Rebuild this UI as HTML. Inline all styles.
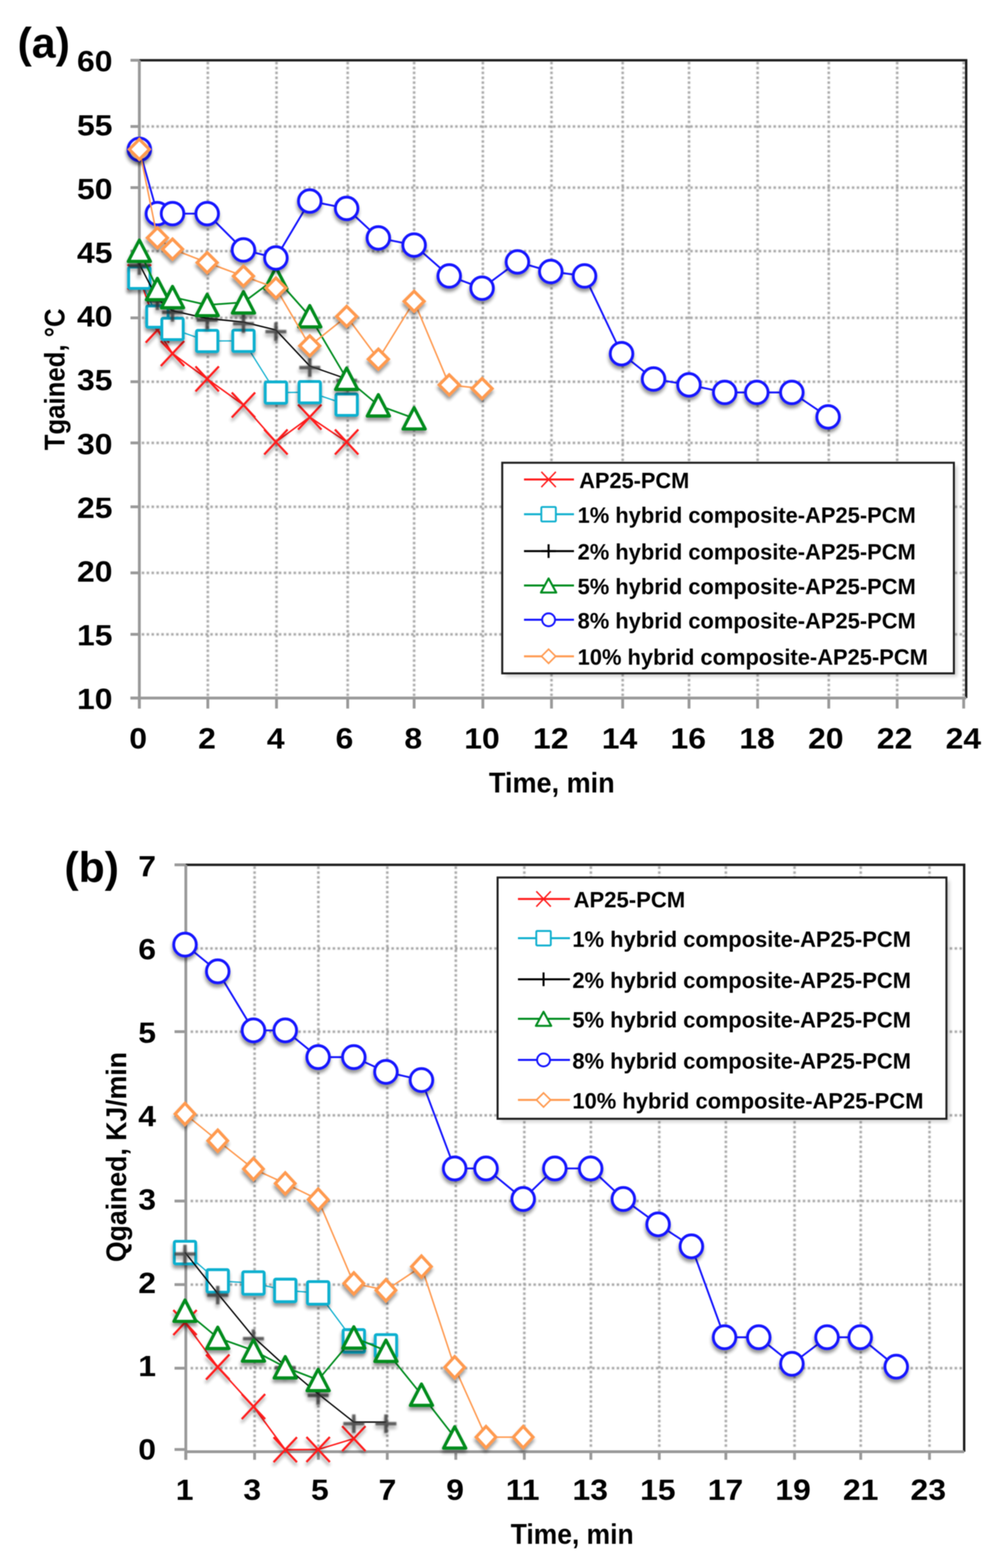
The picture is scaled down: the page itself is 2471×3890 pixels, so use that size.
<!DOCTYPE html>
<html><head><meta charset="utf-8"><title>Tgained and Qgained vs time</title><style>
html,body{margin:0;padding:0;background:#fff;}
svg{display:block;filter:blur(1.1px);}
text{font-family:"Liberation Sans",Arial,sans-serif;font-weight:bold;fill:#000;}
</style></head><body>
<svg width="2471" height="3890" viewBox="0 0 2471 3890">
<defs>
<filter id="sh" x="-20%" y="-20%" width="140%" height="140%"><feGaussianBlur in="SourceAlpha" stdDeviation="4"/><feOffset dx="-1.5" dy="8" result="b"/><feComponentTransfer in="b" result="c"><feFuncA type="linear" slope="0.42"/></feComponentTransfer><feMerge><feMergeNode in="c"/><feMergeNode in="SourceGraphic"/></feMerge></filter>
<filter id="bl" x="-30%" y="-30%" width="160%" height="160%"><feGaussianBlur stdDeviation="1.6"/></filter>
<filter id="gb" x="-1%" y="-1%" width="102%" height="102%"><feGaussianBlur stdDeviation="0.9"/></filter>
<filter id="bl6" x="-10%" y="-10%" width="120%" height="120%"><feGaussianBlur stdDeviation="5"/></filter>
</defs>
<rect width="2471" height="3890" fill="#fff"/>
<g stroke="#a2a2a2" stroke-width="6" stroke-dasharray="6 6.15" filter="url(#gb)">
<line x1="351.7" y1="313.8" x2="2394" y2="313.8"/>
<line x1="351.7" y1="465.4" x2="2394" y2="465.4"/>
<line x1="351.7" y1="623" x2="2394" y2="623"/>
<line x1="351.7" y1="788.6" x2="2394" y2="788.6"/>
<line x1="351.7" y1="947" x2="2394" y2="947"/>
<line x1="351.7" y1="1098.8" x2="2394" y2="1098.8"/>
<line x1="351.7" y1="1257.3" x2="2394" y2="1257.3"/>
<line x1="351.7" y1="1421.2" x2="2394" y2="1421.2"/>
<line x1="351.7" y1="1573.7" x2="2394" y2="1573.7"/>
<line x1="515.6" y1="153.5" x2="515.6" y2="1728.8"/>
<line x1="686" y1="153.5" x2="686" y2="1728.8"/>
<line x1="862.6" y1="153.5" x2="862.6" y2="1728.8"/>
<line x1="1027.4" y1="153.5" x2="1027.4" y2="1728.8"/>
<line x1="1197.9" y1="153.5" x2="1197.9" y2="1728.8"/>
<line x1="1368.2" y1="153.5" x2="1368.2" y2="1728.8"/>
<line x1="1544.8" y1="153.5" x2="1544.8" y2="1728.8"/>
<line x1="1709.4" y1="153.5" x2="1709.4" y2="1728.8"/>
<line x1="1879.6" y1="153.5" x2="1879.6" y2="1728.8"/>
<line x1="2056.1" y1="153.5" x2="2056.1" y2="1728.8"/>
<line x1="2225.8" y1="153.5" x2="2225.8" y2="1728.8"/>
<line x1="2390.8" y1="153.5" x2="2390.8" y2="1728.8"/>
</g>
<path d="M345.7 149.5L2397 149.5L2397 1731.8" fill="none" stroke="#1e1e1e" stroke-width="6"/>
<line x1="345.7" y1="149.5" x2="345.7" y2="1757.8" stroke="#999999" stroke-width="7"/>
<line x1="323.7" y1="1731.8" x2="2397" y2="1731.8" stroke="#999999" stroke-width="7"/>
<line x1="323.7" y1="149.5" x2="345.7" y2="149.5" stroke="#999999" stroke-width="7"/>
<line x1="323.7" y1="313.8" x2="345.7" y2="313.8" stroke="#999999" stroke-width="7"/>
<line x1="323.7" y1="465.4" x2="345.7" y2="465.4" stroke="#999999" stroke-width="7"/>
<line x1="323.7" y1="623" x2="345.7" y2="623" stroke="#999999" stroke-width="7"/>
<line x1="323.7" y1="788.6" x2="345.7" y2="788.6" stroke="#999999" stroke-width="7"/>
<line x1="323.7" y1="947" x2="345.7" y2="947" stroke="#999999" stroke-width="7"/>
<line x1="323.7" y1="1098.8" x2="345.7" y2="1098.8" stroke="#999999" stroke-width="7"/>
<line x1="323.7" y1="1257.3" x2="345.7" y2="1257.3" stroke="#999999" stroke-width="7"/>
<line x1="323.7" y1="1421.2" x2="345.7" y2="1421.2" stroke="#999999" stroke-width="7"/>
<line x1="323.7" y1="1573.7" x2="345.7" y2="1573.7" stroke="#999999" stroke-width="7"/>
<line x1="323.7" y1="1731.8" x2="345.7" y2="1731.8" stroke="#999999" stroke-width="7"/>
<line x1="345.7" y1="1731.8" x2="345.7" y2="1757.8" stroke="#999999" stroke-width="7"/>
<line x1="515.6" y1="1731.8" x2="515.6" y2="1757.8" stroke="#999999" stroke-width="7"/>
<line x1="686" y1="1731.8" x2="686" y2="1757.8" stroke="#999999" stroke-width="7"/>
<line x1="862.6" y1="1731.8" x2="862.6" y2="1757.8" stroke="#999999" stroke-width="7"/>
<line x1="1027.4" y1="1731.8" x2="1027.4" y2="1757.8" stroke="#999999" stroke-width="7"/>
<line x1="1197.9" y1="1731.8" x2="1197.9" y2="1757.8" stroke="#999999" stroke-width="7"/>
<line x1="1368.2" y1="1731.8" x2="1368.2" y2="1757.8" stroke="#999999" stroke-width="7"/>
<line x1="1544.8" y1="1731.8" x2="1544.8" y2="1757.8" stroke="#999999" stroke-width="7"/>
<line x1="1709.4" y1="1731.8" x2="1709.4" y2="1757.8" stroke="#999999" stroke-width="7"/>
<line x1="1879.6" y1="1731.8" x2="1879.6" y2="1757.8" stroke="#999999" stroke-width="7"/>
<line x1="2056.1" y1="1731.8" x2="2056.1" y2="1757.8" stroke="#999999" stroke-width="7"/>
<line x1="2225.8" y1="1731.8" x2="2225.8" y2="1757.8" stroke="#999999" stroke-width="7"/>
<line x1="2390.8" y1="1731.8" x2="2390.8" y2="1757.8" stroke="#999999" stroke-width="7"/>
<text transform="translate(279 177.3) scale(1.1 1)" font-size="72" text-anchor="end">60</text>
<text transform="translate(279 335.5) scale(1.1 1)" font-size="72" text-anchor="end">55</text>
<text transform="translate(279 493.7) scale(1.1 1)" font-size="72" text-anchor="end">50</text>
<text transform="translate(279 651.9) scale(1.1 1)" font-size="72" text-anchor="end">45</text>
<text transform="translate(279 810.1) scale(1.1 1)" font-size="72" text-anchor="end">40</text>
<text transform="translate(279 968.3) scale(1.1 1)" font-size="72" text-anchor="end">35</text>
<text transform="translate(279 1126.5) scale(1.1 1)" font-size="72" text-anchor="end">30</text>
<text transform="translate(279 1284.7) scale(1.1 1)" font-size="72" text-anchor="end">25</text>
<text transform="translate(279 1442.9) scale(1.1 1)" font-size="72" text-anchor="end">20</text>
<text transform="translate(279 1601.1) scale(1.1 1)" font-size="72" text-anchor="end">15</text>
<text transform="translate(279 1759.3) scale(1.1 1)" font-size="72" text-anchor="end">10</text>
<text transform="translate(342.8 1857) scale(1.1 1)" font-size="72" text-anchor="middle">0</text>
<text transform="translate(513.4 1857) scale(1.1 1)" font-size="72" text-anchor="middle">2</text>
<text transform="translate(684 1857) scale(1.1 1)" font-size="72" text-anchor="middle">4</text>
<text transform="translate(854.6 1857) scale(1.1 1)" font-size="72" text-anchor="middle">6</text>
<text transform="translate(1025.2 1857) scale(1.1 1)" font-size="72" text-anchor="middle">8</text>
<text transform="translate(1195.8 1857) scale(1.1 1)" font-size="72" text-anchor="middle">10</text>
<text transform="translate(1366.4 1857) scale(1.1 1)" font-size="72" text-anchor="middle">12</text>
<text transform="translate(1537 1857) scale(1.1 1)" font-size="72" text-anchor="middle">14</text>
<text transform="translate(1707.6 1857) scale(1.1 1)" font-size="72" text-anchor="middle">16</text>
<text transform="translate(1878.2 1857) scale(1.1 1)" font-size="72" text-anchor="middle">18</text>
<text transform="translate(2048.8 1857) scale(1.1 1)" font-size="72" text-anchor="middle">20</text>
<text transform="translate(2219.4 1857) scale(1.1 1)" font-size="72" text-anchor="middle">22</text>
<text transform="translate(2390 1857) scale(1.1 1)" font-size="72" text-anchor="middle">24</text>
<text x="1213" y="1966" font-size="70" text-anchor="start" textLength="312" lengthAdjust="spacingAndGlyphs">Time, min</text>
<text transform="translate(160.4 1117) rotate(-90)" font-size="70" textLength="352" lengthAdjust="spacingAndGlyphs">Tgained, °C</text>
<text x="43.4" y="143" font-size="106" text-anchor="start" textLength="130" lengthAdjust="spacingAndGlyphs">(a)</text>
<path d="M345.7 687L390.5 819L428 877L514 940L604 1004.8L684.5 1096.5L768.5 1034.8L860 1096.5" fill="none" stroke="#FF1A1A" stroke-width="3.8" stroke-linejoin="round"/>
<g filter="url(#sh)">
<path d="M316.7 656L374.7 718M316.7 718L374.7 656" stroke="#FF1A1A" stroke-width="5.2" fill="none"/>
<path d="M361.5 788L419.5 850M361.5 850L419.5 788" stroke="#FF1A1A" stroke-width="5.2" fill="none"/>
<path d="M399 846L457 908M399 908L457 846" stroke="#FF1A1A" stroke-width="5.2" fill="none"/>
<path d="M485 909L543 971M485 971L543 909" stroke="#FF1A1A" stroke-width="5.2" fill="none"/>
<path d="M575 973.8L633 1035.8M575 1035.8L633 973.8" stroke="#FF1A1A" stroke-width="5.2" fill="none"/>
<path d="M655.5 1065.5L713.5 1127.5M655.5 1127.5L713.5 1065.5" stroke="#FF1A1A" stroke-width="5.2" fill="none"/>
<path d="M739.5 1003.8L797.5 1065.8M739.5 1065.8L797.5 1003.8" stroke="#FF1A1A" stroke-width="5.2" fill="none"/>
<path d="M831 1065.5L889 1127.5M831 1127.5L889 1065.5" stroke="#FF1A1A" stroke-width="5.2" fill="none"/>
</g>
<path d="M345.7 689L390.5 785.4L428 816L514 846L604 845.5L684.5 974L768.5 973L860 1004" fill="none" stroke="#10B0CF" stroke-width="3.2" stroke-linejoin="round"/>
<g filter="url(#sh)">
<rect x="319.2" y="662.5" width="53" height="53" rx="3.2" fill="#fff" stroke="#10B0CF" stroke-width="7.2"/>
<rect x="364" y="758.9" width="53" height="53" rx="3.2" fill="#fff" stroke="#10B0CF" stroke-width="7.2"/>
<rect x="401.5" y="789.5" width="53" height="53" rx="3.2" fill="#fff" stroke="#10B0CF" stroke-width="7.2"/>
<rect x="487.5" y="819.5" width="53" height="53" rx="3.2" fill="#fff" stroke="#10B0CF" stroke-width="7.2"/>
<rect x="577.5" y="819" width="53" height="53" rx="3.2" fill="#fff" stroke="#10B0CF" stroke-width="7.2"/>
<rect x="658" y="947.5" width="53" height="53" rx="3.2" fill="#fff" stroke="#10B0CF" stroke-width="7.2"/>
<rect x="742" y="946.5" width="53" height="53" rx="3.2" fill="#fff" stroke="#10B0CF" stroke-width="7.2"/>
<rect x="833.5" y="977.5" width="53" height="53" rx="3.2" fill="#fff" stroke="#10B0CF" stroke-width="7.2"/>
</g>
<path d="M345.7 655L390.5 742L428 771L514 790L604 799L684.5 818.7L768.5 908L860 940" fill="none" stroke="#000000" stroke-width="3.4" stroke-linejoin="round"/>
<g filter="url(#sh)">
<path d="M319.7 659L371.7 659M345.7 636L345.7 682" stroke="#383838" stroke-width="8.5" fill="none" opacity="0.8" filter="url(#bl)"/>
<path d="M364.5 746L416.5 746M390.5 723L390.5 769" stroke="#383838" stroke-width="8.5" fill="none" opacity="0.8" filter="url(#bl)"/>
<path d="M402 775L454 775M428 752L428 798" stroke="#383838" stroke-width="8.5" fill="none" opacity="0.8" filter="url(#bl)"/>
<path d="M488 794L540 794M514 771L514 817" stroke="#383838" stroke-width="8.5" fill="none" opacity="0.8" filter="url(#bl)"/>
<path d="M578 803L630 803M604 780L604 826" stroke="#383838" stroke-width="8.5" fill="none" opacity="0.8" filter="url(#bl)"/>
<path d="M658.5 822.7L710.5 822.7M684.5 799.7L684.5 845.7" stroke="#383838" stroke-width="8.5" fill="none" opacity="0.8" filter="url(#bl)"/>
<path d="M742.5 912L794.5 912M768.5 889L768.5 935" stroke="#383838" stroke-width="8.5" fill="none" opacity="0.8" filter="url(#bl)"/>
<path d="M834 944L886 944M860 921L860 967" stroke="#383838" stroke-width="8.5" fill="none" opacity="0.8" filter="url(#bl)"/>
</g>
<path d="M345.7 622L390.5 717L428 737L514 756.6L604 750L684.5 690L768.5 784.5L860 939.5L938.7 1005.5L1027.4 1037.7" fill="none" stroke="#008C1E" stroke-width="4.2" stroke-linejoin="round"/>
<g filter="url(#sh)">
<path d="M345.7 595.5L373.2 648.5L318.2 648.5Z" fill="#fff" stroke="#008C1E" stroke-width="7.8" stroke-linejoin="round"/>
<path d="M390.5 690.5L418 743.5L363 743.5Z" fill="#fff" stroke="#008C1E" stroke-width="7.8" stroke-linejoin="round"/>
<path d="M428 710.5L455.5 763.5L400.5 763.5Z" fill="#fff" stroke="#008C1E" stroke-width="7.8" stroke-linejoin="round"/>
<path d="M514 730.1L541.5 783.1L486.5 783.1Z" fill="#fff" stroke="#008C1E" stroke-width="7.8" stroke-linejoin="round"/>
<path d="M604 723.5L631.5 776.5L576.5 776.5Z" fill="#fff" stroke="#008C1E" stroke-width="7.8" stroke-linejoin="round"/>
<path d="M684.5 663.5L712 716.5L657 716.5Z" fill="#fff" stroke="#008C1E" stroke-width="7.8" stroke-linejoin="round"/>
<path d="M768.5 758L796 811L741 811Z" fill="#fff" stroke="#008C1E" stroke-width="7.8" stroke-linejoin="round"/>
<path d="M860 913L887.5 966L832.5 966Z" fill="#fff" stroke="#008C1E" stroke-width="7.8" stroke-linejoin="round"/>
<path d="M938.7 979L966.2 1032L911.2 1032Z" fill="#fff" stroke="#008C1E" stroke-width="7.8" stroke-linejoin="round"/>
<path d="M1027.4 1011.2L1054.9 1064.2L999.9 1064.2Z" fill="#fff" stroke="#008C1E" stroke-width="7.8" stroke-linejoin="round"/>
</g>
<path d="M345.7 370.5L390.5 530L428 530L514 530L604 620L684.5 640L768.5 498.7L860 517L938.7 590.2L1027.4 608L1114.5 684.6L1196 715L1283.7 649.8L1366.5 673.6L1450.2 684.6L1542 877.4L1621.4 940.2L1709.3 954.8L1798 973.6L1877.5 973.6L1964.5 973.6L2054.5 1034.3" fill="none" stroke="#1414FF" stroke-width="4.6" stroke-linejoin="round"/>
<g filter="url(#sh)">
<circle cx="345.7" cy="370.5" r="28" fill="#fff" stroke="#1414FF" stroke-width="7"/>
<circle cx="390.5" cy="530" r="28" fill="#fff" stroke="#1414FF" stroke-width="7"/>
<circle cx="428" cy="530" r="28" fill="#fff" stroke="#1414FF" stroke-width="7"/>
<circle cx="514" cy="530" r="28" fill="#fff" stroke="#1414FF" stroke-width="7"/>
<circle cx="604" cy="620" r="28" fill="#fff" stroke="#1414FF" stroke-width="7"/>
<circle cx="684.5" cy="640" r="28" fill="#fff" stroke="#1414FF" stroke-width="7"/>
<circle cx="768.5" cy="498.7" r="28" fill="#fff" stroke="#1414FF" stroke-width="7"/>
<circle cx="860" cy="517" r="28" fill="#fff" stroke="#1414FF" stroke-width="7"/>
<circle cx="938.7" cy="590.2" r="28" fill="#fff" stroke="#1414FF" stroke-width="7"/>
<circle cx="1027.4" cy="608" r="28" fill="#fff" stroke="#1414FF" stroke-width="7"/>
<circle cx="1114.5" cy="684.6" r="28" fill="#fff" stroke="#1414FF" stroke-width="7"/>
<circle cx="1196" cy="715" r="28" fill="#fff" stroke="#1414FF" stroke-width="7"/>
<circle cx="1283.7" cy="649.8" r="28" fill="#fff" stroke="#1414FF" stroke-width="7"/>
<circle cx="1366.5" cy="673.6" r="28" fill="#fff" stroke="#1414FF" stroke-width="7"/>
<circle cx="1450.2" cy="684.6" r="28" fill="#fff" stroke="#1414FF" stroke-width="7"/>
<circle cx="1542" cy="877.4" r="28" fill="#fff" stroke="#1414FF" stroke-width="7"/>
<circle cx="1621.4" cy="940.2" r="28" fill="#fff" stroke="#1414FF" stroke-width="7"/>
<circle cx="1709.3" cy="954.8" r="28" fill="#fff" stroke="#1414FF" stroke-width="7"/>
<circle cx="1798" cy="973.6" r="28" fill="#fff" stroke="#1414FF" stroke-width="7"/>
<circle cx="1877.5" cy="973.6" r="28" fill="#fff" stroke="#1414FF" stroke-width="7"/>
<circle cx="1964.5" cy="973.6" r="28" fill="#fff" stroke="#1414FF" stroke-width="7"/>
<circle cx="2054.5" cy="1034.3" r="28" fill="#fff" stroke="#1414FF" stroke-width="7"/>
</g>
<path d="M345.7 370.5L390.5 590L428 618L514 651.6L604 685L684.5 714.5L768.5 858L860 785L938.7 891L1027.4 747.5L1114.5 954.8L1196 964" fill="none" stroke="#FF9A50" stroke-width="3.8" stroke-linejoin="round"/>
<g filter="url(#sh)">
<path d="M345.7 345.5L370.7 370.5L345.7 395.5L320.7 370.5Z" fill="#fff" stroke="#FF9A50" stroke-width="7.5" stroke-linejoin="miter"/>
<path d="M390.5 565L415.5 590L390.5 615L365.5 590Z" fill="#fff" stroke="#FF9A50" stroke-width="7.5" stroke-linejoin="miter"/>
<path d="M428 593L453 618L428 643L403 618Z" fill="#fff" stroke="#FF9A50" stroke-width="7.5" stroke-linejoin="miter"/>
<path d="M514 626.6L539 651.6L514 676.6L489 651.6Z" fill="#fff" stroke="#FF9A50" stroke-width="7.5" stroke-linejoin="miter"/>
<path d="M604 660L629 685L604 710L579 685Z" fill="#fff" stroke="#FF9A50" stroke-width="7.5" stroke-linejoin="miter"/>
<path d="M684.5 689.5L709.5 714.5L684.5 739.5L659.5 714.5Z" fill="#fff" stroke="#FF9A50" stroke-width="7.5" stroke-linejoin="miter"/>
<path d="M768.5 833L793.5 858L768.5 883L743.5 858Z" fill="#fff" stroke="#FF9A50" stroke-width="7.5" stroke-linejoin="miter"/>
<path d="M860 760L885 785L860 810L835 785Z" fill="#fff" stroke="#FF9A50" stroke-width="7.5" stroke-linejoin="miter"/>
<path d="M938.7 866L963.7 891L938.7 916L913.7 891Z" fill="#fff" stroke="#FF9A50" stroke-width="7.5" stroke-linejoin="miter"/>
<path d="M1027.4 722.5L1052.4 747.5L1027.4 772.5L1002.4 747.5Z" fill="#fff" stroke="#FF9A50" stroke-width="7.5" stroke-linejoin="miter"/>
<path d="M1114.5 929.8L1139.5 954.8L1114.5 979.8L1089.5 954.8Z" fill="#fff" stroke="#FF9A50" stroke-width="7.5" stroke-linejoin="miter"/>
<path d="M1196 939L1221 964L1196 989L1171 964Z" fill="#fff" stroke="#FF9A50" stroke-width="7.5" stroke-linejoin="miter"/>
</g>
<rect x="1254" y="1156" width="1120.5" height="522.5" fill="#000" opacity="0.18" filter="url(#bl6)"/>
<rect x="1246" y="1148" width="1120.5" height="522.5" fill="#fff" stroke="#1e1e1e" stroke-width="5"/>
<line x1="1300" y1="1189.6" x2="1424" y2="1189.6" stroke="#FF1A1A" stroke-width="5"/>
<path d="M1343 1170.6L1379 1208.6M1343 1208.6L1379 1170.6" stroke="#FF1A1A" stroke-width="3.6" fill="none"/>
<text x="1437" y="1210.6" font-size="55" text-anchor="start" textLength="273" lengthAdjust="spacingAndGlyphs">AP25-PCM</text>
<line x1="1300" y1="1275.7" x2="1424" y2="1275.7" stroke="#10B0CF" stroke-width="5"/>
<rect x="1343" y="1257.7" width="36" height="36" rx="2.2" fill="#fff" stroke="#10B0CF" stroke-width="4.6"/>
<text x="1433" y="1296.7" font-size="55" text-anchor="start" textLength="839" lengthAdjust="spacingAndGlyphs">1% hybrid composite-AP25-PCM</text>
<line x1="1300" y1="1367.2" x2="1424" y2="1367.2" stroke="#000000" stroke-width="5"/>
<path d="M1343 1367.2L1379 1367.2M1361 1350.2L1361 1384.2" stroke="#000" stroke-width="5" fill="none"/>
<text x="1433" y="1388.2" font-size="55" text-anchor="start" textLength="839" lengthAdjust="spacingAndGlyphs">2% hybrid composite-AP25-PCM</text>
<line x1="1300" y1="1452.5" x2="1424" y2="1452.5" stroke="#008C1E" stroke-width="5"/>
<path d="M1361 1435L1380 1470L1342 1470Z" fill="#fff" stroke="#008C1E" stroke-width="5" stroke-linejoin="round"/>
<text x="1433" y="1473.5" font-size="55" text-anchor="start" textLength="839" lengthAdjust="spacingAndGlyphs">5% hybrid composite-AP25-PCM</text>
<line x1="1300" y1="1537.6" x2="1424" y2="1537.6" stroke="#1414FF" stroke-width="5"/>
<circle cx="1361" cy="1537.6" r="16" fill="#fff" stroke="#1414FF" stroke-width="4.6"/>
<text x="1433" y="1558.6" font-size="55" text-anchor="start" textLength="839" lengthAdjust="spacingAndGlyphs">8% hybrid composite-AP25-PCM</text>
<line x1="1300" y1="1628.2" x2="1424" y2="1628.2" stroke="#FF9A50" stroke-width="5"/>
<path d="M1361 1610.7L1378.5 1628.2L1361 1645.7L1343.5 1628.2Z" fill="#fff" stroke="#FF9A50" stroke-width="4" stroke-linejoin="miter"/>
<text x="1433" y="1649.2" font-size="55" text-anchor="start" textLength="869" lengthAdjust="spacingAndGlyphs">10% hybrid composite-AP25-PCM</text>
<g stroke="#a2a2a2" stroke-width="6" stroke-dasharray="6 6.15" filter="url(#gb)">
<line x1="473" y1="2352.9" x2="2389" y2="2352.9"/>
<line x1="473" y1="2559.4" x2="2389" y2="2559.4"/>
<line x1="473" y1="2767" x2="2389" y2="2767"/>
<line x1="473" y1="2979.6" x2="2389" y2="2979.6"/>
<line x1="473" y1="3186.9" x2="2389" y2="3186.9"/>
<line x1="473" y1="3394.3" x2="2389" y2="3394.3"/>
<line x1="631.6" y1="2149.5" x2="631.6" y2="3595.5"/>
<line x1="789.8" y1="2149.5" x2="789.8" y2="3595.5"/>
<line x1="960.8" y1="2149.5" x2="960.8" y2="3595.5"/>
<line x1="1130.8" y1="2149.5" x2="1130.8" y2="3595.5"/>
<line x1="1300.8" y1="2149.5" x2="1300.8" y2="3595.5"/>
<line x1="1465.9" y1="2149.5" x2="1465.9" y2="3595.5"/>
<line x1="1635.6" y1="2149.5" x2="1635.6" y2="3595.5"/>
<line x1="1800.8" y1="2149.5" x2="1800.8" y2="3595.5"/>
<line x1="1971.2" y1="2149.5" x2="1971.2" y2="3595.5"/>
<line x1="2135.4" y1="2149.5" x2="2135.4" y2="3595.5"/>
<line x1="2306" y1="2149.5" x2="2306" y2="3595.5"/>
</g>
<path d="M461 2145.5L2392 2145.5L2392 3601.5" fill="none" stroke="#1e1e1e" stroke-width="6"/>
<line x1="461" y1="2145.5" x2="461" y2="3621.5" stroke="#999999" stroke-width="7"/>
<line x1="461" y1="3601.5" x2="2392" y2="3601.5" stroke="#999999" stroke-width="7"/>
<line x1="433" y1="2145.5" x2="461" y2="2145.5" stroke="#999999" stroke-width="7"/>
<line x1="433" y1="2352.9" x2="461" y2="2352.9" stroke="#999999" stroke-width="7"/>
<line x1="433" y1="2559.4" x2="461" y2="2559.4" stroke="#999999" stroke-width="7"/>
<line x1="433" y1="2767" x2="461" y2="2767" stroke="#999999" stroke-width="7"/>
<line x1="433" y1="2979.6" x2="461" y2="2979.6" stroke="#999999" stroke-width="7"/>
<line x1="433" y1="3186.9" x2="461" y2="3186.9" stroke="#999999" stroke-width="7"/>
<line x1="433" y1="3394.3" x2="461" y2="3394.3" stroke="#999999" stroke-width="7"/>
<line x1="433" y1="3596" x2="461" y2="3596" stroke="#999999" stroke-width="7"/>
<line x1="460.9" y1="3601.5" x2="460.9" y2="3621.5" stroke="#999999" stroke-width="7"/>
<line x1="631.6" y1="3601.5" x2="631.6" y2="3621.5" stroke="#999999" stroke-width="7"/>
<line x1="789.8" y1="3601.5" x2="789.8" y2="3621.5" stroke="#999999" stroke-width="7"/>
<line x1="960.8" y1="3601.5" x2="960.8" y2="3621.5" stroke="#999999" stroke-width="7"/>
<line x1="1130.8" y1="3601.5" x2="1130.8" y2="3621.5" stroke="#999999" stroke-width="7"/>
<line x1="1300.8" y1="3601.5" x2="1300.8" y2="3621.5" stroke="#999999" stroke-width="7"/>
<line x1="1465.9" y1="3601.5" x2="1465.9" y2="3621.5" stroke="#999999" stroke-width="7"/>
<line x1="1635.6" y1="3601.5" x2="1635.6" y2="3621.5" stroke="#999999" stroke-width="7"/>
<line x1="1800.8" y1="3601.5" x2="1800.8" y2="3621.5" stroke="#999999" stroke-width="7"/>
<line x1="1971.2" y1="3601.5" x2="1971.2" y2="3621.5" stroke="#999999" stroke-width="7"/>
<line x1="2135.4" y1="3601.5" x2="2135.4" y2="3621.5" stroke="#999999" stroke-width="7"/>
<line x1="2306" y1="3601.5" x2="2306" y2="3621.5" stroke="#999999" stroke-width="7"/>
<text transform="translate(387 2173.6) scale(1.1 1)" font-size="72" text-anchor="end">7</text>
<text transform="translate(387 2380.4) scale(1.1 1)" font-size="72" text-anchor="end">6</text>
<text transform="translate(387 2587.2) scale(1.1 1)" font-size="72" text-anchor="end">5</text>
<text transform="translate(387 2794) scale(1.1 1)" font-size="72" text-anchor="end">4</text>
<text transform="translate(387 3000.8) scale(1.1 1)" font-size="72" text-anchor="end">3</text>
<text transform="translate(387 3207.6) scale(1.1 1)" font-size="72" text-anchor="end">2</text>
<text transform="translate(387 3414.4) scale(1.1 1)" font-size="72" text-anchor="end">1</text>
<text transform="translate(387 3621.2) scale(1.1 1)" font-size="72" text-anchor="end">0</text>
<text transform="translate(458 3721) scale(1.1 1)" font-size="72" text-anchor="middle">1</text>
<text transform="translate(625.7 3721) scale(1.1 1)" font-size="72" text-anchor="middle">3</text>
<text transform="translate(793.4 3721) scale(1.1 1)" font-size="72" text-anchor="middle">5</text>
<text transform="translate(961.2 3721) scale(1.1 1)" font-size="72" text-anchor="middle">7</text>
<text transform="translate(1128.9 3721) scale(1.1 1)" font-size="72" text-anchor="middle">9</text>
<text transform="translate(1296.6 3721) scale(1.1 1)" font-size="72" text-anchor="middle">11</text>
<text transform="translate(1464.3 3721) scale(1.1 1)" font-size="72" text-anchor="middle">13</text>
<text transform="translate(1632 3721) scale(1.1 1)" font-size="72" text-anchor="middle">15</text>
<text transform="translate(1799.8 3721) scale(1.1 1)" font-size="72" text-anchor="middle">17</text>
<text transform="translate(1967.5 3721) scale(1.1 1)" font-size="72" text-anchor="middle">19</text>
<text transform="translate(2135.2 3721) scale(1.1 1)" font-size="72" text-anchor="middle">21</text>
<text transform="translate(2302.9 3721) scale(1.1 1)" font-size="72" text-anchor="middle">23</text>
<text x="1267" y="3830" font-size="70" text-anchor="start" textLength="305" lengthAdjust="spacingAndGlyphs">Time, min</text>
<text transform="translate(313.4 3131) rotate(-90)" font-size="70" textLength="521" lengthAdjust="spacingAndGlyphs">Qgained, KJ/min</text>
<text x="159.7" y="2188" font-size="106" text-anchor="start" textLength="135.5" lengthAdjust="spacingAndGlyphs">(b)</text>
<path d="M459 3281L540.2 3391.4L628.8 3489.5L707.7 3596.5L789.3 3596L877.8 3569" fill="none" stroke="#FF1A1A" stroke-width="3.8" stroke-linejoin="round"/>
<g filter="url(#sh)">
<path d="M430 3250L488 3312M430 3312L488 3250" stroke="#FF1A1A" stroke-width="5.2" fill="none"/>
<path d="M511.2 3360.4L569.2 3422.4M511.2 3422.4L569.2 3360.4" stroke="#FF1A1A" stroke-width="5.2" fill="none"/>
<path d="M599.8 3458.5L657.8 3520.5M599.8 3520.5L657.8 3458.5" stroke="#FF1A1A" stroke-width="5.2" fill="none"/>
<path d="M678.7 3565.5L736.7 3627.5M678.7 3627.5L736.7 3565.5" stroke="#FF1A1A" stroke-width="5.2" fill="none"/>
<path d="M760.3 3565L818.3 3627M760.3 3627L818.3 3565" stroke="#FF1A1A" stroke-width="5.2" fill="none"/>
<path d="M848.8 3538L906.8 3600M848.8 3600L906.8 3538" stroke="#FF1A1A" stroke-width="5.2" fill="none"/>
</g>
<path d="M459 3107.5L540.2 3177.8L628.8 3183L707.7 3201.3L789.3 3207.5L877.8 3326.7L957.5 3339" fill="none" stroke="#10B0CF" stroke-width="3.2" stroke-linejoin="round"/>
<g filter="url(#sh)">
<rect x="432.5" y="3079.5" width="53" height="56" rx="3.2" fill="#fff" stroke="#10B0CF" stroke-width="7.2"/>
<rect x="513.7" y="3149.8" width="53" height="56" rx="3.2" fill="#fff" stroke="#10B0CF" stroke-width="7.2"/>
<rect x="602.3" y="3155" width="53" height="56" rx="3.2" fill="#fff" stroke="#10B0CF" stroke-width="7.2"/>
<rect x="681.2" y="3173.3" width="53" height="56" rx="3.2" fill="#fff" stroke="#10B0CF" stroke-width="7.2"/>
<rect x="762.8" y="3179.5" width="53" height="56" rx="3.2" fill="#fff" stroke="#10B0CF" stroke-width="7.2"/>
<rect x="851.3" y="3298.7" width="53" height="56" rx="3.2" fill="#fff" stroke="#10B0CF" stroke-width="7.2"/>
<rect x="931" y="3311" width="53" height="56" rx="3.2" fill="#fff" stroke="#10B0CF" stroke-width="7.2"/>
</g>
<path d="M459 3107L540.2 3209L628.8 3317L707.7 3389L789.3 3458L877.8 3528L957.5 3528" fill="none" stroke="#000000" stroke-width="3.4" stroke-linejoin="round"/>
<g filter="url(#sh)">
<path d="M433 3111L485 3111M459 3088L459 3134" stroke="#383838" stroke-width="8.5" fill="none" opacity="0.8" filter="url(#bl)"/>
<path d="M514.2 3213L566.2 3213M540.2 3190L540.2 3236" stroke="#383838" stroke-width="8.5" fill="none" opacity="0.8" filter="url(#bl)"/>
<path d="M602.8 3321L654.8 3321M628.8 3298L628.8 3344" stroke="#383838" stroke-width="8.5" fill="none" opacity="0.8" filter="url(#bl)"/>
<path d="M681.7 3393L733.7 3393M707.7 3370L707.7 3416" stroke="#383838" stroke-width="8.5" fill="none" opacity="0.8" filter="url(#bl)"/>
<path d="M763.3 3462L815.3 3462M789.3 3439L789.3 3485" stroke="#383838" stroke-width="8.5" fill="none" opacity="0.8" filter="url(#bl)"/>
<path d="M851.8 3532L903.8 3532M877.8 3509L877.8 3555" stroke="#383838" stroke-width="8.5" fill="none" opacity="0.8" filter="url(#bl)"/>
<path d="M931.5 3532L983.5 3532M957.5 3509L957.5 3555" stroke="#383838" stroke-width="8.5" fill="none" opacity="0.8" filter="url(#bl)"/>
</g>
<path d="M459 3251.6L540.2 3319L628.8 3350.3L707.7 3392L789.3 3423.5L877.8 3318L957.5 3351L1045.6 3460L1128 3566" fill="none" stroke="#008C1E" stroke-width="4.2" stroke-linejoin="round"/>
<g filter="url(#sh)">
<path d="M459 3225.1L486.5 3278.1L431.5 3278.1Z" fill="#fff" stroke="#008C1E" stroke-width="7.8" stroke-linejoin="round"/>
<path d="M540.2 3292.5L567.7 3345.5L512.7 3345.5Z" fill="#fff" stroke="#008C1E" stroke-width="7.8" stroke-linejoin="round"/>
<path d="M628.8 3323.8L656.3 3376.8L601.3 3376.8Z" fill="#fff" stroke="#008C1E" stroke-width="7.8" stroke-linejoin="round"/>
<path d="M707.7 3365.5L735.2 3418.5L680.2 3418.5Z" fill="#fff" stroke="#008C1E" stroke-width="7.8" stroke-linejoin="round"/>
<path d="M789.3 3397L816.8 3450L761.8 3450Z" fill="#fff" stroke="#008C1E" stroke-width="7.8" stroke-linejoin="round"/>
<path d="M877.8 3291.5L905.3 3344.5L850.3 3344.5Z" fill="#fff" stroke="#008C1E" stroke-width="7.8" stroke-linejoin="round"/>
<path d="M957.5 3324.5L985 3377.5L930 3377.5Z" fill="#fff" stroke="#008C1E" stroke-width="7.8" stroke-linejoin="round"/>
<path d="M1045.6 3433.5L1073.1 3486.5L1018.1 3486.5Z" fill="#fff" stroke="#008C1E" stroke-width="7.8" stroke-linejoin="round"/>
<path d="M1128 3539.5L1155.5 3592.5L1100.5 3592.5Z" fill="#fff" stroke="#008C1E" stroke-width="7.8" stroke-linejoin="round"/>
</g>
<path d="M459 2343.5L540.2 2409.8L628.8 2556.2L707.7 2556.2L789.3 2622.6L877.8 2622.6L957.5 2659.2L1045.6 2679.5L1128 2898.8L1205.8 2898.8L1298 2974.6L1376.5 2898.8L1465.4 2898.8L1546.4 2974.6L1632.7 3037.4L1715.3 3092L1797.6 3317.6L1882.4 3317.6L1964.7 3383.5L2051.8 3317.6L2134.1 3317.6L2223.5 3390.6" fill="none" stroke="#1414FF" stroke-width="4.6" stroke-linejoin="round"/>
<g filter="url(#sh)">
<ellipse cx="459" cy="2343.5" rx="28" ry="28.5" fill="#fff" stroke="#1414FF" stroke-width="7"/>
<ellipse cx="540.2" cy="2409.8" rx="28" ry="28.5" fill="#fff" stroke="#1414FF" stroke-width="7"/>
<ellipse cx="628.8" cy="2556.2" rx="28" ry="28.5" fill="#fff" stroke="#1414FF" stroke-width="7"/>
<ellipse cx="707.7" cy="2556.2" rx="28" ry="28.5" fill="#fff" stroke="#1414FF" stroke-width="7"/>
<ellipse cx="789.3" cy="2622.6" rx="28" ry="28.5" fill="#fff" stroke="#1414FF" stroke-width="7"/>
<ellipse cx="877.8" cy="2622.6" rx="28" ry="28.5" fill="#fff" stroke="#1414FF" stroke-width="7"/>
<ellipse cx="957.5" cy="2659.2" rx="28" ry="28.5" fill="#fff" stroke="#1414FF" stroke-width="7"/>
<ellipse cx="1045.6" cy="2679.5" rx="28" ry="28.5" fill="#fff" stroke="#1414FF" stroke-width="7"/>
<ellipse cx="1128" cy="2898.8" rx="28" ry="28.5" fill="#fff" stroke="#1414FF" stroke-width="7"/>
<ellipse cx="1205.8" cy="2898.8" rx="28" ry="28.5" fill="#fff" stroke="#1414FF" stroke-width="7"/>
<ellipse cx="1298" cy="2974.6" rx="28" ry="28.5" fill="#fff" stroke="#1414FF" stroke-width="7"/>
<ellipse cx="1376.5" cy="2898.8" rx="28" ry="28.5" fill="#fff" stroke="#1414FF" stroke-width="7"/>
<ellipse cx="1465.4" cy="2898.8" rx="28" ry="28.5" fill="#fff" stroke="#1414FF" stroke-width="7"/>
<ellipse cx="1546.4" cy="2974.6" rx="28" ry="28.5" fill="#fff" stroke="#1414FF" stroke-width="7"/>
<ellipse cx="1632.7" cy="3037.4" rx="28" ry="28.5" fill="#fff" stroke="#1414FF" stroke-width="7"/>
<ellipse cx="1715.3" cy="3092" rx="28" ry="28.5" fill="#fff" stroke="#1414FF" stroke-width="7"/>
<ellipse cx="1797.6" cy="3317.6" rx="28" ry="28.5" fill="#fff" stroke="#1414FF" stroke-width="7"/>
<ellipse cx="1882.4" cy="3317.6" rx="28" ry="28.5" fill="#fff" stroke="#1414FF" stroke-width="7"/>
<ellipse cx="1964.7" cy="3383.5" rx="28" ry="28.5" fill="#fff" stroke="#1414FF" stroke-width="7"/>
<ellipse cx="2051.8" cy="3317.6" rx="28" ry="28.5" fill="#fff" stroke="#1414FF" stroke-width="7"/>
<ellipse cx="2134.1" cy="3317.6" rx="28" ry="28.5" fill="#fff" stroke="#1414FF" stroke-width="7"/>
<ellipse cx="2223.5" cy="3390.6" rx="28" ry="28.5" fill="#fff" stroke="#1414FF" stroke-width="7"/>
</g>
<path d="M459 2763.6L540.2 2829.9L628.8 2900L707.7 2936L789.3 2975.9L877.8 3183.9L957.5 3200.9L1045.6 3142.2L1128 3392L1205.8 3565.3L1298 3565.3" fill="none" stroke="#FF9A50" stroke-width="3.8" stroke-linejoin="round"/>
<g filter="url(#sh)">
<path d="M459 2737.1L483.5 2763.6L459 2790.1L434.5 2763.6Z" fill="#fff" stroke="#FF9A50" stroke-width="7.5" stroke-linejoin="miter"/>
<path d="M540.2 2803.4L564.7 2829.9L540.2 2856.4L515.7 2829.9Z" fill="#fff" stroke="#FF9A50" stroke-width="7.5" stroke-linejoin="miter"/>
<path d="M628.8 2873.5L653.3 2900L628.8 2926.5L604.3 2900Z" fill="#fff" stroke="#FF9A50" stroke-width="7.5" stroke-linejoin="miter"/>
<path d="M707.7 2909.5L732.2 2936L707.7 2962.5L683.2 2936Z" fill="#fff" stroke="#FF9A50" stroke-width="7.5" stroke-linejoin="miter"/>
<path d="M789.3 2949.4L813.8 2975.9L789.3 3002.4L764.8 2975.9Z" fill="#fff" stroke="#FF9A50" stroke-width="7.5" stroke-linejoin="miter"/>
<path d="M877.8 3157.4L902.3 3183.9L877.8 3210.4L853.3 3183.9Z" fill="#fff" stroke="#FF9A50" stroke-width="7.5" stroke-linejoin="miter"/>
<path d="M957.5 3174.4L982 3200.9L957.5 3227.4L933 3200.9Z" fill="#fff" stroke="#FF9A50" stroke-width="7.5" stroke-linejoin="miter"/>
<path d="M1045.6 3115.7L1070.1 3142.2L1045.6 3168.7L1021.1 3142.2Z" fill="#fff" stroke="#FF9A50" stroke-width="7.5" stroke-linejoin="miter"/>
<path d="M1128 3365.5L1152.5 3392L1128 3418.5L1103.5 3392Z" fill="#fff" stroke="#FF9A50" stroke-width="7.5" stroke-linejoin="miter"/>
<path d="M1205.8 3538.8L1230.3 3565.3L1205.8 3591.8L1181.3 3565.3Z" fill="#fff" stroke="#FF9A50" stroke-width="7.5" stroke-linejoin="miter"/>
<path d="M1298 3538.8L1322.5 3565.3L1298 3591.8L1273.5 3565.3Z" fill="#fff" stroke="#FF9A50" stroke-width="7.5" stroke-linejoin="miter"/>
</g>
<rect x="1242.5" y="2185" width="1113.5" height="598.5" fill="#000" opacity="0.18" filter="url(#bl6)"/>
<rect x="1234.5" y="2177" width="1113.5" height="598.5" fill="#fff" stroke="#1e1e1e" stroke-width="5"/>
<line x1="1285" y1="2230.3" x2="1414" y2="2230.3" stroke="#FF1A1A" stroke-width="5"/>
<path d="M1330.5 2211.3L1366.5 2249.3M1330.5 2249.3L1366.5 2211.3" stroke="#FF1A1A" stroke-width="3.6" fill="none"/>
<text x="1423" y="2251.3" font-size="55" text-anchor="start" textLength="277" lengthAdjust="spacingAndGlyphs">AP25-PCM</text>
<line x1="1285" y1="2327.6" x2="1414" y2="2327.6" stroke="#10B0CF" stroke-width="5"/>
<rect x="1330.5" y="2309.6" width="36" height="36" rx="2.2" fill="#fff" stroke="#10B0CF" stroke-width="4.6"/>
<text x="1420" y="2348.6" font-size="55" text-anchor="start" textLength="840" lengthAdjust="spacingAndGlyphs">1% hybrid composite-AP25-PCM</text>
<line x1="1285" y1="2429.5" x2="1414" y2="2429.5" stroke="#000000" stroke-width="5"/>
<path d="M1330.5 2429.5L1366.5 2429.5M1348.5 2412.5L1348.5 2446.5" stroke="#000" stroke-width="5" fill="none"/>
<text x="1420" y="2450.5" font-size="55" text-anchor="start" textLength="840" lengthAdjust="spacingAndGlyphs">2% hybrid composite-AP25-PCM</text>
<line x1="1285" y1="2527.5" x2="1414" y2="2527.5" stroke="#008C1E" stroke-width="5"/>
<path d="M1348.5 2510L1367.5 2545L1329.5 2545Z" fill="#fff" stroke="#008C1E" stroke-width="5" stroke-linejoin="round"/>
<text x="1420" y="2548.5" font-size="55" text-anchor="start" textLength="840" lengthAdjust="spacingAndGlyphs">5% hybrid composite-AP25-PCM</text>
<line x1="1285" y1="2629.6" x2="1414" y2="2629.6" stroke="#1414FF" stroke-width="5"/>
<circle cx="1348.5" cy="2629.6" r="16" fill="#fff" stroke="#1414FF" stroke-width="4.6"/>
<text x="1420" y="2650.6" font-size="55" text-anchor="start" textLength="840" lengthAdjust="spacingAndGlyphs">8% hybrid composite-AP25-PCM</text>
<line x1="1285" y1="2728.8" x2="1414" y2="2728.8" stroke="#FF9A50" stroke-width="5"/>
<path d="M1348.5 2711.3L1366 2728.8L1348.5 2746.3L1331 2728.8Z" fill="#fff" stroke="#FF9A50" stroke-width="4" stroke-linejoin="miter"/>
<text x="1420" y="2749.8" font-size="55" text-anchor="start" textLength="871" lengthAdjust="spacingAndGlyphs">10% hybrid composite-AP25-PCM</text>
</svg></body></html>
